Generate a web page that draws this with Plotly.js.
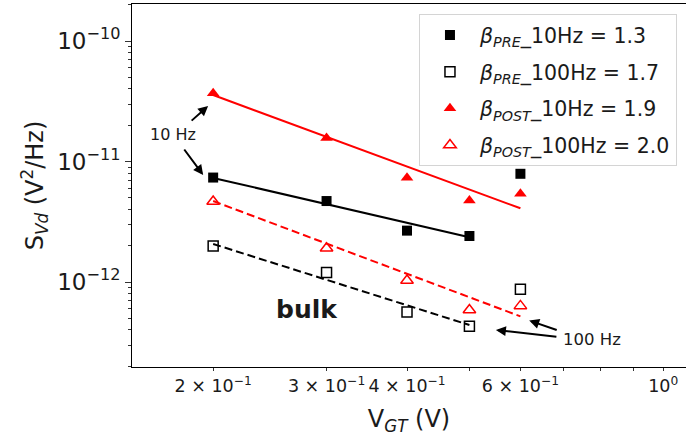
<!DOCTYPE html>
<html>
<head>
<meta charset="utf-8">
<script src="https://cdn.plot.ly/plotly-3.0.1.min.js"></script>
<style>
html,body{margin:0;padding:0;background:#fff;}
#chart{width:686px;height:439px;}
</style>
</head>
<body>
<div id="chart"></div>
<script>
// ---- data ----
const vgt = [0.2, 0.3, 0.4, 0.5, 0.6];
const pre10 = [7.36e-12, 4.70e-12, 2.67e-12, 2.41e-12, 7.91e-12];
const pre100 = [1.99e-12, 1.20e-12, 5.64e-13, 4.29e-13, 8.70e-13];
const post10 = [3.68e-11, 1.57e-11, 7.34e-12, 4.75e-12, 5.39e-12];
const post100 = [4.66e-12, 1.91e-12, 1.03e-12, 5.86e-13, 6.34e-13];

// fitted lines (end points)
const fitPre10X = [0.2, 0.5];
const fitPre10Y = [7.31e-12, 2.35e-12];
const fitPre100X = [0.2, 0.5];
const fitPre100Y = [2.07e-12, 4.40e-13];
const fitPost10X = [0.2, 0.6];
const fitPost10Y = [3.56e-11, 4.09e-12];
const fitPost100X = [0.2, 0.6];
const fitPost100Y = [4.70e-12, 5.19e-13];

const legendNames = [
  '<i>β</i><sub><i>PRE</i></sub>_10Hz = 1.3',
  '<i>β</i><sub><i>PRE</i></sub>_100Hz = 1.7',
  '<i>β</i><sub><i>POST</i></sub>_10Hz = 1.9',
  '<i>β</i><sub><i>POST</i></sub>_100Hz = 2.0'
];

const xTickVals = [0.2, 0.3, 0.4, 0.6, 1];
const xTickText = ['2 × 10<sup>−1</sup>', '3 × 10<sup>−1</sup>', '4 × 10<sup>−1</sup>', '6 × 10<sup>−1</sup>', '10<sup>0</sup>'];
const xMinorVals = [0.5, 0.7, 0.8, 0.9];
const yTickVals = [1e-12, 1e-11, 1e-10];
const yTickText = ['10<sup>−12</sup>', '10<sup>−11</sup>', '10<sup>−10</sup>'];
const yMinorVals = [2e-13, 3e-13, 4e-13, 5e-13, 6e-13, 7e-13, 8e-13, 9e-13,
                    2e-12, 3e-12, 4e-12, 5e-12, 6e-12, 7e-12, 8e-12, 9e-12,
                    2e-11, 3e-11, 4e-11, 5e-11, 6e-11, 7e-11, 8e-11, 9e-11, 2e-10];

const FONT = 'DejaVu Sans, sans-serif';

const traces = [
  {x: fitPre10X, y: fitPre10Y, mode: 'lines', line: {color: 'black', width: 2}, showlegend: false, hoverinfo: 'skip'},
  {x: fitPre100X, y: fitPre100Y, mode: 'lines', line: {color: 'black', width: 2, dash: '8px,4px'}, showlegend: false, hoverinfo: 'skip'},
  {x: fitPost10X, y: fitPost10Y, mode: 'lines', line: {color: 'red', width: 2}, showlegend: false, hoverinfo: 'skip'},
  {x: fitPost100X, y: fitPost100Y, mode: 'lines', line: {color: 'red', width: 2, dash: '8px,4px'}, showlegend: false, hoverinfo: 'skip'},
  {x: vgt, y: pre10, mode: 'markers', name: legendNames[0], legendgroup: 'a',
   marker: {symbol: 'square', size: 10, color: 'black'}},
  {x: vgt, y: pre100, mode: 'markers', name: legendNames[1], legendgroup: 'b',
   marker: {symbol: 'square-open', size: 10, color: 'black', line: {width: 1.5, color: 'black'}}},
  {x: vgt, y: post10, mode: 'markers', name: legendNames[2], legendgroup: 'c',
   marker: {symbol: 'triangle-up', size: 11, color: 'red'}},
  {x: vgt, y: post100, mode: 'markers', name: legendNames[3], legendgroup: 'd',
   marker: {symbol: 'triangle-up-open', size: 11, color: 'red', line: {width: 1.5, color: 'red'}}}
];

const layout = {
  width: 686, height: 439,
  margin: {l: 132, r: 0, t: 4, b: 72},
  paper_bgcolor: 'white', plot_bgcolor: 'white',
  font: {family: FONT, color: '#1a1a1a'},
  showlegend: true,
  legend: {
    x: 0.518, y: 0.972, xanchor: 'left', yanchor: 'top',
    bgcolor: 'white', bordercolor: '#d4d4d4', borderwidth: 1,
    font: {family: FONT, size: 20.5, color: '#1a1a1a'},
    tracegroupgap: 7, traceorder: 'grouped', itemwidth: 50
  },
  xaxis: {
    type: 'log', range: [-0.825, 0.0353],
    showline: true, linecolor: 'black', linewidth: 1, mirror: true,
    showgrid: false, zeroline: false,
    tickmode: 'array', tickvals: xTickVals, ticktext: xTickText,
    ticks: 'outside', ticklen: 3, tickcolor: '#333', tickwidth: 1,
    tickfont: {family: FONT, size: 17.5, color: '#1a1a1a'},
    minor: {tickmode: 'array', tickvals: xMinorVals, ticks: 'outside', ticklen: 3, tickcolor: '#333', showgrid: false},
    title: {text: 'V<sub><i>GT</i></sub> (V)', font: {family: FONT, size: 24, color: '#1a1a1a'}, standoff: 15}
  },
  yaxis: {
    type: 'log', range: [-12.705, -9.693],
    showline: true, linecolor: 'black', linewidth: 1, mirror: false,
    showgrid: false, zeroline: false,
    tickmode: 'array', tickvals: yTickVals, ticktext: yTickText,
    ticks: 'outside', ticklen: 6, tickcolor: '#333', tickwidth: 1,
    tickfont: {family: FONT, size: 23, color: '#1a1a1a'},
    minor: {tickmode: 'array', tickvals: yMinorVals, ticks: 'outside', ticklen: 3, tickcolor: '#333', showgrid: false},
    title: {text: 'S<sub><i>Vd</i></sub> (V<sup>2</sup>/Hz)', font: {family: FONT, size: 24, color: '#1a1a1a'}, standoff: 6}
  },
  annotations: [
    {x: -0.7616, y: -10.772, xref: 'x', yref: 'y', text: '10 Hz', showarrow: false,
     font: {family: FONT, size: 16, color: '#1a1a1a'}},
    {x: -0.7068, y: -10.539, xref: 'x', yref: 'y', text: '', showarrow: true,
     ax: -18, ay: 16, arrowhead: 2, arrowsize: 1, arrowwidth: 2, arrowcolor: 'black'},
    {x: -0.7145, y: -11.112, xref: 'x', yref: 'y', text: '', showarrow: true,
     ax: -20, ay: -27, arrowhead: 2, arrowsize: 1, arrowwidth: 2, arrowcolor: 'black'},
    {x: -0.1108, y: -12.473, xref: 'x', yref: 'y', text: '100 Hz', showarrow: false,
     font: {family: FONT, size: 16.5, color: '#1a1a1a'}},
    {x: -0.2082, y: -12.3195, xref: 'x', yref: 'y', text: '', showarrow: true,
     ax: 29, ay: 10, arrowhead: 2, arrowsize: 1, arrowwidth: 2, arrowcolor: 'black'},
    {x: -0.2599, y: -12.398, xref: 'x', yref: 'y', text: '', showarrow: true,
     ax: 62, ay: 7, arrowhead: 2, arrowsize: 1, arrowwidth: 2, arrowcolor: 'black'},
    {x: -0.5535, y: -12.224, xref: 'x', yref: 'y', text: '<b>bulk</b>', showarrow: false,
     font: {family: FONT, size: 25, color: '#1a1a1a'}}
  ]
};

Plotly.newPlot('chart', traces, layout, {displayModeBar: false, staticPlot: true});
</script>
</body>
</html>
